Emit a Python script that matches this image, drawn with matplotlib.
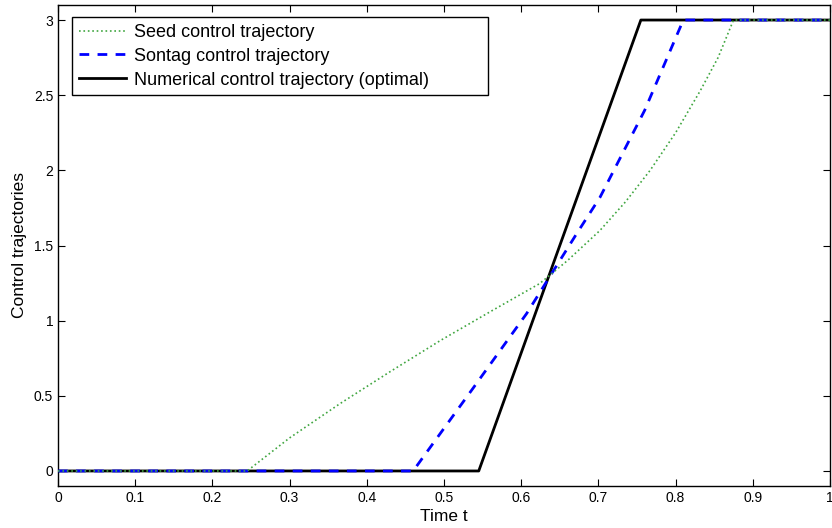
import numpy as np
import matplotlib.pyplot as plt
from matplotlib.ticker import FuncFormatter

# 数据：控制轨迹
t_seed = [0, 0.245, 0.30, 0.365, 0.43, 0.495, 0.56, 0.624, 0.66, 0.702, 0.735, 0.767, 0.80, 0.832, 0.855, 0.875, 1.0]
u_seed = [0, 0, 0.22, 0.447, 0.66, 0.867, 1.06, 1.247, 1.40, 1.60, 1.79, 2.00, 2.25, 2.53, 2.75, 3.0, 3.0]

t_sontag = [0, 0.46, 0.538, 0.607, 0.672, 0.702, 0.76, 0.81, 1.0]
u_sontag = [0, 0, 0.553, 1.047, 1.58, 1.82, 2.40, 3.0, 3.0]

t_opt = [0, 0.545, 0.755, 1.0]
u_opt = [0, 0, 3.0, 3.0]

labels = ['Seed control trajectory', 'Sontag control trajectory',
          'Numerical control trajectory (optimal)']

plt.rcParams['font.family'] = ['Liberation Sans', 'DejaVu Sans']

fig = plt.figure(figsize=(8.32, 5.28), dpi=100)
ax = fig.add_axes([58 / 832, 1 - 486 / 528, 772 / 832, 481 / 528])

ax.plot(t_seed, u_seed, ':', color=(0.25, 0.65, 0.25), lw=1.2, label=labels[0], zorder=4)
ax.plot(t_sontag, u_sontag, '--', color='#0000ff', lw=2, dashes=(3.5, 3), label=labels[1], zorder=3)
ax.plot(t_opt, u_opt, '-', color='black', lw=2, label=labels[2], zorder=2)

ax.set_xlim(0, 1)
ax.set_ylim(-0.1, 3.1)
ax.set_xticks(np.arange(0, 1.01, 0.1))
ax.set_yticks(np.arange(0, 3.01, 0.5))
fmt = FuncFormatter(lambda v, p: ('%g' % round(v, 2)))
ax.xaxis.set_major_formatter(fmt)
ax.yaxis.set_major_formatter(fmt)
ax.tick_params(direction='in', top=True, right=True, length=5, labelsize=10)
for s in ax.spines.values():
    s.set_linewidth(1.0)

ax.set_xlabel('Time t', fontsize=12.5, labelpad=3)
ax.set_ylabel('Control trajectories', fontsize=12.5, labelpad=5)

# 图例框，宽度与参考图一致
x0 = (72 - 58) / 772
w = (488 - 72) / 772
top = (486 - 17) / 481
leg = ax.legend(loc='upper left', bbox_to_anchor=(x0, top - 0.2, w, 0.2), mode='expand',
                fontsize=13, fancybox=False, framealpha=1, edgecolor='black',
                borderaxespad=0, handlelength=2.6, labelspacing=0.38,
                borderpad=0.38, handletextpad=0.45)
leg.get_frame().set_linewidth(1.0)

fig.savefig('out.png', dpi=100)
